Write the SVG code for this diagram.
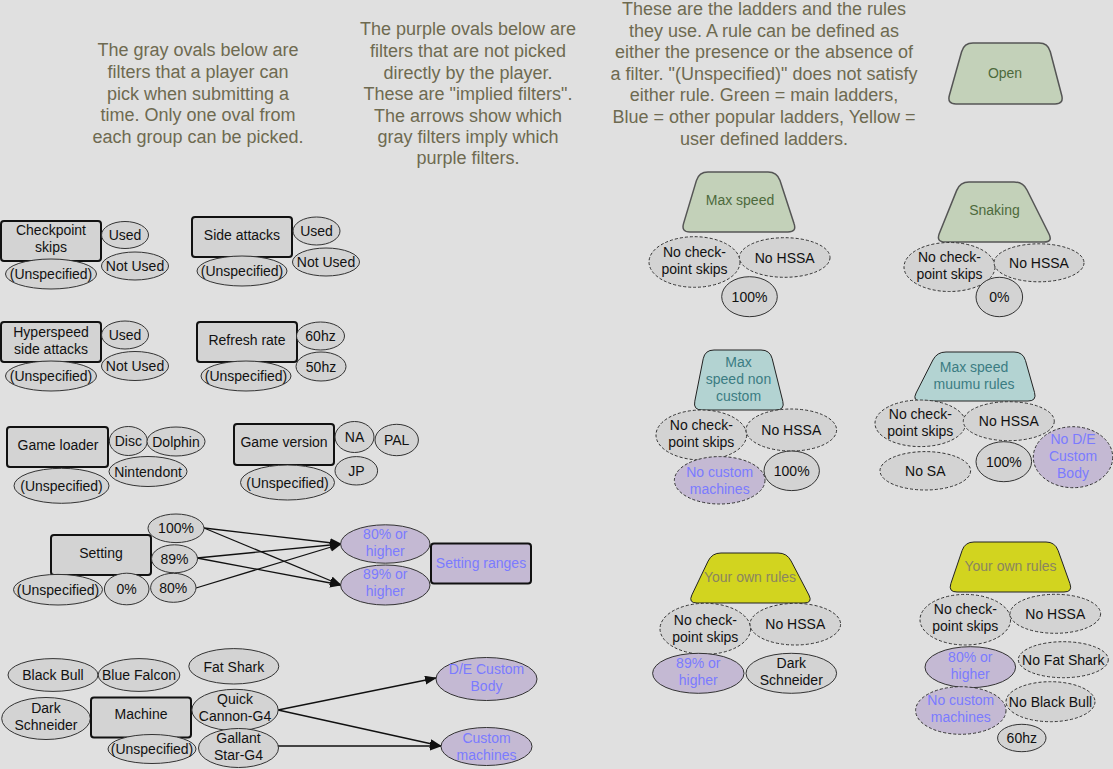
<svg xmlns="http://www.w3.org/2000/svg" width="1113" height="769" viewBox="0 0 1113 769">
<defs>
<style>
text{font-family:"Liberation Sans",Arial,sans-serif;font-size:14px;fill:#111;text-anchor:middle}
.title{font-size:18px;fill:#6e6a50}
.g{fill:#d3d3d3;stroke:#333;stroke-width:1}
.p{fill:#c4b9d3;stroke:#333;stroke-width:1}
.d{stroke-dasharray:3 2}
.box{fill:#d3d3d3;stroke:#111;stroke-width:2}
.pbox{fill:#c4b9d3;stroke:#111;stroke-width:2}
.pt{fill:#7b7bff}
.gr{fill:#c3d1b9;stroke:#555;stroke-width:1.5}
.bl{fill:#b3d3d2;stroke:#222;stroke-width:1}
.ye{fill:#d2d41f;stroke:#222;stroke-width:1}
.grt{fill:#4d6a3c}
.blt{fill:#3b7c82}
.yet{fill:#8a8560}
.arr{stroke:#111;stroke-width:1.3;fill:none;marker-end:url(#ah)}
</style>
<marker id="ah" markerWidth="12" markerHeight="10" refX="11" refY="4.5" orient="auto" markerUnits="userSpaceOnUse"><path d="M0,0 L12,4.5 L0,9 Z" fill="#111"/></marker>
</defs>
<rect width="1113" height="769" fill="#e0e0e0"/>

<g id="text-gray">
<text class="title" x="198" y="56">The gray ovals below are</text>
<text class="title" x="198" y="78">filters that a player can</text>
<text class="title" x="198" y="100">pick when submitting a</text>
<text class="title" x="198" y="121">time. Only one oval from</text>
<text class="title" x="198" y="143">each group can be picked.</text>
</g>
<g id="text-purple">
<text class="title" x="468" y="35">The purple ovals below are</text>
<text class="title" x="468" y="57">filters that are not picked</text>
<text class="title" x="468" y="79">directly by the player.</text>
<text class="title" x="468" y="100">These are "implied filters".</text>
<text class="title" x="468" y="122">The arrows show which</text>
<text class="title" x="468" y="143">gray filters imply which</text>
<text class="title" x="468" y="164">purple filters.</text>
</g>
<g id="text-ladders">
<text class="title" x="764" y="15">These are the ladders and the rules</text>
<text class="title" x="764" y="37">they use. A rule can be defined as</text>
<text class="title" x="764" y="58">either the presence or the absence of</text>
<text class="title" x="764" y="80">a filter. "(Unspecified)" does not satisfy</text>
<text class="title" x="764" y="101">either rule. Green = main ladders,</text>
<text class="title" x="764" y="123">Blue = other popular ladders, Yellow =</text>
<text class="title" x="764" y="145">user defined ladders.</text>
</g>

<g id="connectors">
<line class="arr" x1="204" y1="528" x2="341" y2="544"/>
<line class="arr" x1="204" y1="528" x2="341" y2="585"/>
<line class="arr" x1="197" y1="558" x2="341" y2="544"/>
<line class="arr" x1="197" y1="558" x2="341" y2="585"/>
<line class="arr" x1="196" y1="588" x2="341" y2="544"/>
<line class="arr" x1="278" y1="710" x2="436" y2="678"/>
<line class="arr" x1="278" y1="710" x2="441" y2="746"/>
<line class="arr" x1="278" y1="746" x2="441" y2="746"/>
</g>

<!-- Checkpoint skips -->
<g id="checkpoint-skips"><rect class="box" x="1" y="221" width="100" height="40" rx="3"/><text x="51" y="235">Checkpoint</text><text x="51" y="252">skips</text></g>
<g id="cs-used"><ellipse class="g" cx="125" cy="235" rx="23.5" ry="13.5"/><text x="125" y="240">Used</text></g>
<g id="cs-notused"><ellipse class="g" cx="135" cy="266" rx="33.5" ry="14"/><text x="135" y="271">Not Used</text></g>
<g id="cs-unspec"><ellipse class="g" cx="51" cy="274" rx="45.5" ry="15"/><text x="51" y="279">(Unspecified)</text></g>

<!-- Side attacks -->
<g id="side-attacks"><rect class="box" x="192" y="217" width="100" height="40" rx="3"/><text x="242" y="240">Side attacks</text></g>
<g id="sa-used"><ellipse class="g" cx="316.5" cy="231" rx="23.5" ry="14"/><text x="316.5" y="236">Used</text></g>
<g id="sa-notused"><ellipse class="g" cx="326" cy="262" rx="33.5" ry="14"/><text x="326" y="267">Not Used</text></g>
<g id="sa-unspec"><ellipse class="g" cx="242" cy="271" rx="45" ry="15"/><text x="242" y="276">(Unspecified)</text></g>

<!-- Hyperspeed -->
<g id="hyperspeed"><rect class="box" x="1" y="322" width="100" height="40" rx="3"/><text x="51" y="337">Hyperspeed</text><text x="51" y="354">side attacks</text></g>
<g id="hs-used"><ellipse class="g" cx="125" cy="335" rx="23.5" ry="14"/><text x="125" y="340">Used</text></g>
<g id="hs-notused"><ellipse class="g" cx="135" cy="366" rx="33.5" ry="14.5"/><text x="135" y="371">Not Used</text></g>
<g id="hs-unspec"><ellipse class="g" cx="51" cy="376" rx="45.5" ry="15"/><text x="51" y="381">(Unspecified)</text></g>

<!-- Refresh rate -->
<g id="refresh-rate"><rect class="box" x="197" y="322" width="100" height="40" rx="3"/><text x="247" y="345">Refresh rate</text></g>
<g id="rr-60"><ellipse class="g" cx="320.5" cy="336" rx="24" ry="14"/><text x="320.5" y="341">60hz</text></g>
<g id="rr-50"><ellipse class="g" cx="321" cy="366.5" rx="25" ry="14.5"/><text x="321" y="371.5">50hz</text></g>
<g id="rr-unspec"><ellipse class="g" cx="246" cy="376" rx="45" ry="15"/><text x="246" y="381">(Unspecified)</text></g>

<!-- Game loader -->
<g id="game-loader"><rect class="box" x="7" y="427" width="101" height="40" rx="3"/><text x="58" y="450">Game loader</text></g>
<g id="gl-disc"><ellipse class="g" cx="128.3" cy="441" rx="19" ry="14.5"/><text x="128.3" y="446">Disc</text></g>
<g id="gl-dolphin"><ellipse class="g" cx="176" cy="441.5" rx="29" ry="14.5"/><text x="176" y="446.5">Dolphin</text></g>
<g id="gl-nintendont"><ellipse class="g" cx="148" cy="471.5" rx="39" ry="15"/><text x="148" y="476.5">Nintendont</text></g>
<g id="gl-unspec"><ellipse class="g" cx="61.5" cy="485.8" rx="47.5" ry="17.5"/><text x="61.5" y="491">(Unspecified)</text></g>

<!-- Game version -->
<g id="game-version"><rect class="box" x="234" y="424" width="100" height="41" rx="3"/><text x="284" y="447">Game version</text></g>
<g id="gv-na"><ellipse class="g" cx="354.5" cy="437" rx="19.5" ry="15.5"/><text x="354.5" y="442">NA</text></g>
<g id="gv-pal"><ellipse class="g" cx="396.7" cy="440" rx="21.7" ry="15.7"/><text x="396.7" y="445">PAL</text></g>
<g id="gv-jp"><ellipse class="g" cx="356.3" cy="470.8" rx="21.3" ry="14.2"/><text x="356.3" y="476">JP</text></g>
<g id="gv-unspec"><ellipse class="g" cx="287.5" cy="482.5" rx="47" ry="17.5"/><text x="287.5" y="487.5">(Unspecified)</text></g>

<!-- Setting -->
<g id="setting"><rect class="box" x="51" y="535" width="100" height="40" rx="3"/><text x="101" y="558">Setting</text></g>
<g id="st-100"><ellipse class="g" cx="176" cy="528.3" rx="28" ry="14.3"/><text x="176" y="533">100%</text></g>
<g id="st-89"><ellipse class="g" cx="174.5" cy="558.8" rx="23" ry="14"/><text x="174.5" y="564">89%</text></g>
<g id="st-80"><ellipse class="g" cx="173.3" cy="587.8" rx="22.7" ry="14.5"/><text x="173.3" y="593">80%</text></g>
<g id="st-0"><ellipse class="g" cx="126.7" cy="589" rx="22.3" ry="15.8"/><text x="126.7" y="594">0%</text></g>
<g id="st-unspec"><ellipse class="g" cx="58" cy="589.7" rx="44.5" ry="15.3"/><text x="58" y="594.7">(Unspecified)</text></g>
<g id="p80"><ellipse class="p" cx="385.3" cy="544" rx="44.7" ry="19.2"/><text class="pt" x="385.3" y="539">80% or</text><text class="pt" x="385.3" y="556">higher</text></g>
<g id="p89"><ellipse class="p" cx="385.3" cy="585" rx="44.7" ry="20"/><text class="pt" x="385.3" y="579">89% or</text><text class="pt" x="385.3" y="596">higher</text></g>
<g id="setting-ranges"><rect class="pbox" x="431" y="543.5" width="100" height="40" rx="3"/><text class="pt" x="481" y="568">Setting ranges</text></g>

<!-- Machine -->
<g id="black-bull"><ellipse class="g" cx="53" cy="675" rx="45" ry="16.4"/><text x="53" y="680">Black Bull</text></g>
<g id="blue-falcon"><ellipse class="g" cx="139" cy="675" rx="40.8" ry="16.4"/><text x="139" y="680">Blue Falcon</text></g>
<g id="fat-shark"><ellipse class="g" cx="233.8" cy="666.3" rx="45" ry="17.7"/><text x="233.8" y="671.5">Fat Shark</text></g>
<g id="dark-schneider"><ellipse class="g" cx="46" cy="718.5" rx="44.3" ry="21"/><text x="46" y="713">Dark</text><text x="46" y="730">Schneider</text></g>
<g id="machine"><rect class="box" x="91" y="697.5" width="100" height="40" rx="3"/><text x="141" y="719">Machine</text></g>
<g id="quick-cannon"><ellipse class="g" cx="235" cy="710" rx="43.2" ry="20.7"/><text x="235" y="704">Quick</text><text x="235" y="721">Cannon-G4</text></g>
<g id="m-unspec"><ellipse class="g" cx="152" cy="749" rx="44" ry="14.5"/><text x="152" y="754">(Unspecified)</text></g>
<g id="gallant-star"><ellipse class="g" cx="238.5" cy="748" rx="40" ry="19.5"/><text x="238.5" y="743">Gallant</text><text x="238.5" y="760">Star-G4</text></g>
<g id="de-custom-body"><ellipse class="p" cx="486.5" cy="679" rx="50.5" ry="21.5"/><text class="pt" x="486.5" y="674">D/E Custom</text><text class="pt" x="486.5" y="691">Body</text></g>
<g id="custom-machines"><ellipse class="p" cx="486.5" cy="746.5" rx="45.5" ry="19"/><text class="pt" x="486.5" y="743">Custom</text><text class="pt" x="486.5" y="760">machines</text></g>

<!-- Ladders -->
<g id="open"><path class="gr" d="M973,43 L1039,43 Q1048,43 1050.3,51.7 L1061.7,95.3 Q1064,104 1055,104 L956,104 Q947,104 949.4,95.3 L961.6,51.7 Q964,43 973,43 Z"/><text class="grt" x="1005" y="78">Open</text></g>

<g id="max-speed"><path class="gr" d="M708,172 L768,172 Q777,172 780,180.5 L794,223.5 Q797,232 788,232 L690,232 Q681,232 683.6,223.4 L696.4,180.6 Q699,172 708,172 Z"/><text class="grt" x="740" y="205">Max speed</text>
<ellipse class="g d" cx="694.5" cy="262" rx="45.5" ry="25.3"/><text x="694.5" y="257">No check-</text><text x="694.5" y="274">point skips</text>
<ellipse class="g d" cx="784.7" cy="257.5" rx="45.3" ry="19.8"/><text x="784.7" y="262.5">No HSSA</text>
<ellipse class="g" cx="749.5" cy="296.7" rx="27.8" ry="20"/><text x="749.5" y="301.7">100%</text></g>

<g id="snaking"><path class="gr" d="M969,182 L1014,182 Q1023,182 1027,190 L1049,234 Q1053,242 1044,242 L945,242 Q936,242 939.3,233.6 L956.7,190.4 Q960,182 969,182 Z"/><text class="grt" x="994.5" y="215">Snaking</text>
<ellipse class="g d" cx="949.5" cy="267" rx="45.5" ry="24.5"/><text x="949.5" y="262">No check-</text><text x="949.5" y="279">point skips</text>
<ellipse class="g d" cx="1039" cy="262.8" rx="45" ry="19"/><text x="1039" y="268">No HSSA</text>
<ellipse class="g" cx="999.3" cy="297" rx="23.3" ry="19.7"/><text x="999.3" y="302">0%</text></g>

<g id="max-speed-non-custom"><path class="bl" d="M714,350 L761,350 Q770,350 772.2,358.7 L782.8,401.3 Q785,410 776,410 L702,410 Q693,410 694.8,401.2 L703.2,358.8 Q705,350 714,350 Z"/><text class="blt" x="738.5" y="367">Max</text><text class="blt" x="738.5" y="384">speed non</text><text class="blt" x="738.5" y="401">custom</text>
<ellipse class="g d" cx="701.3" cy="435" rx="45.3" ry="25"/><text x="701.3" y="430">No check-</text><text x="701.3" y="447">point skips</text>
<ellipse class="g d" cx="791.3" cy="430" rx="45.3" ry="21"/><text x="791.3" y="435">No HSSA</text>
<ellipse class="g" cx="791.7" cy="470.8" rx="27.7" ry="19.8"/><text x="791.7" y="476">100%</text>
<ellipse class="p d" cx="719.7" cy="480.3" rx="45.3" ry="23.7"/><text class="pt" x="719.7" y="477">No custom</text><text class="pt" x="719.7" y="494">machines</text></g>

<g id="max-speed-muumu"><path class="bl" d="M946,352 L1014,352 Q1023,352 1025.5,360.6 L1034.5,392.4 Q1037,401 1028,401 L921,401 Q912,401 916.1,393 L932.9,360 Q937,352 946,352 Z"/><text class="blt" x="974" y="372">Max speed</text><text class="blt" x="974" y="389">muumu rules</text>
<ellipse class="g d" cx="920.3" cy="423.3" rx="45.3" ry="23.3"/><text x="920.3" y="418.5">No check-</text><text x="920.3" y="435.5">point skips</text>
<ellipse class="g d" cx="1008.8" cy="421.2" rx="45.5" ry="19.5"/><text x="1008.8" y="426">No HSSA</text>
<ellipse class="g d" cx="925.3" cy="470.8" rx="45.3" ry="19.2"/><text x="925.3" y="476">No SA</text>
<ellipse class="g" cx="1003.8" cy="461.7" rx="27.8" ry="20"/><text x="1003.8" y="466.7">100%</text>
<ellipse class="p d" cx="1073" cy="457.2" rx="39.7" ry="30.5"/><text class="pt" x="1073" y="444">No D/E</text><text class="pt" x="1073" y="461">Custom</text><text class="pt" x="1073" y="478">Body</text></g>

<g id="your-own-rules-1"><path class="ye" d="M721,553 L778,553 Q787,553 791.1,561 L808.9,595 Q813,603 804,603 L697,603 Q688,603 691.9,594.9 L708.1,561.1 Q712,553 721,553 Z"/><text class="yet" x="750" y="582">Your own rules</text>
<ellipse class="g d" cx="705.3" cy="628.8" rx="45.3" ry="25.5"/><text x="705.3" y="624.5">No check-</text><text x="705.3" y="641.5">point skips</text>
<ellipse class="g d" cx="795.3" cy="624.2" rx="45.3" ry="20.8"/><text x="795.3" y="629">No HSSA</text>
<ellipse class="p" cx="698.3" cy="673.3" rx="45.7" ry="20"/><text class="pt" x="698.3" y="668">89% or</text><text class="pt" x="698.3" y="685">higher</text>
<ellipse class="g" cx="791.3" cy="673.3" rx="45.3" ry="20"/><text x="791.3" y="668">Dark</text><text x="791.3" y="685">Schneider</text></g>

<g id="your-own-rules-2"><path class="ye" d="M974,542 L1046,542 Q1055,542 1058.1,550.5 L1069.9,583.5 Q1073,592 1064,592 L957,592 Q948,592 950.9,583.5 L962.1,550.5 Q965,542 974,542 Z"/><text class="yet" x="1010.5" y="571">Your own rules</text>
<ellipse class="g d" cx="965.3" cy="619.7" rx="45.3" ry="25.3"/><text x="965.3" y="614">No check-</text><text x="965.3" y="631">point skips</text>
<ellipse class="g d" cx="1055.3" cy="613.8" rx="45.3" ry="19.5"/><text x="1055.3" y="619">No HSSA</text>
<ellipse class="p" cx="970.3" cy="667.2" rx="45.3" ry="20.5"/><text class="pt" x="970.3" y="662">80% or</text><text class="pt" x="970.3" y="679">higher</text>
<ellipse class="g d" cx="1063.3" cy="659.7" rx="45" ry="18"/><text x="1063.3" y="665">No Fat Shark</text>
<ellipse class="p d" cx="960.8" cy="710.5" rx="45.2" ry="23.8"/><text class="pt" x="960.8" y="705">No custom</text><text class="pt" x="960.8" y="722">machines</text>
<ellipse class="g d" cx="1050.5" cy="701.7" rx="44.5" ry="20"/><text x="1050.5" y="707">No Black Bull</text>
<ellipse class="g" cx="1021.8" cy="738" rx="24.2" ry="13.7"/><text x="1021.8" y="743">60hz</text></g>
</svg>
